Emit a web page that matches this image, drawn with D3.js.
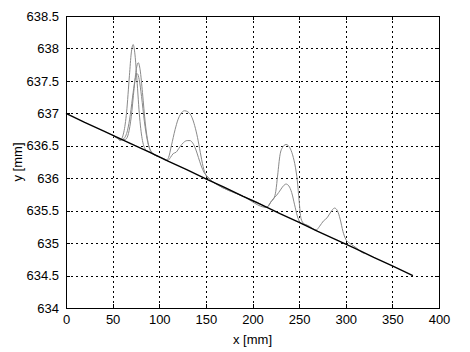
<!DOCTYPE html>
<html>
<head>
<meta charset="utf-8">
<script src="https://cdn.jsdelivr.net/npm/d3@7/dist/d3.min.js"></script>
<style>
html,body{margin:0;padding:0;background:#fff;}
svg{display:block;}
text{font-family:"Liberation Sans",Arial,sans-serif;}
</style>
</head>
<body>
<svg id="chart" width="470" height="352"></svg>
<script>
// ---- data ----
const xTicks = [0, 50, 100, 150, 200, 250, 300, 350, 400];
const yTicks = [634, 634.5, 635, 635.5, 636, 636.5, 637, 637.5, 638, 638.5];
const xLabel = "x [mm]";
const yLabel = "y [mm]";

// black reference line
const baseX = [0, 20, 40, 55, 70, 90, 110, 130, 150, 170, 190, 210, 230, 250, 270, 290, 310, 330, 350, 372];
const baseY = [637.00, 636.86, 636.73, 636.63, 636.53, 636.40, 636.26, 636.13, 635.99, 635.86, 635.72, 635.59, 635.45, 635.32, 635.18, 635.05, 634.92, 634.78, 634.65, 634.50];

// gray curve 1 (highest bumps)
const gray1X = [50, 55, 58, 62, 65, 68, 70, 72, 74, 76, 79, 82, 86, 90, 95, 100, 105, 108, 110, 113, 117, 120, 123, 127, 131, 135, 138, 141, 144, 147, 150, 153, 156, 160, 190, 210, 214, 217, 220, 223, 225, 227, 229.5, 232, 236, 240, 243, 246, 248, 250, 252, 255, 258, 261, 265, 268, 272, 276, 280, 284, 288, 291, 294, 297, 300, 304, 308, 312, 316, 320];
const gray1Y = [636.66, 636.62, 636.58, 636.71, 637.02, 637.58, 637.93, 638.06, 637.90, 637.53, 636.93, 636.58, 636.43, 636.40, 636.36, 636.33, 636.30, 636.28, 636.32, 636.50, 636.75, 636.90, 636.99, 637.04, 637.02, 636.94, 636.81, 636.63, 636.40, 636.18, 636.05, 636.00, 635.96, 635.92, 635.72, 635.59, 635.55, 635.57, 635.64, 635.69, 635.80, 636.05, 636.36, 636.47, 636.52, 636.47, 636.36, 636.17, 635.97, 635.65, 635.38, 635.30, 635.28, 635.26, 635.22, 635.20, 635.26, 635.34, 635.39, 635.48, 635.54, 635.50, 635.37, 635.18, 635.06, 635.00, 634.96, 634.92, 634.87, 634.84];

// gray curve 2
const gray2X = [50, 56, 60, 64, 67, 70, 73, 75.5, 77.5, 79.5, 82, 85, 88, 91, 95, 100, 105, 109, 112, 115, 118, 122, 126, 130, 133, 136, 139, 142, 145, 148, 152, 156, 160, 190, 215, 219, 222, 226, 230, 233, 236, 239, 242, 245, 248, 251, 255, 258, 261, 265];
const gray2Y = [636.66, 636.61, 636.59, 636.60, 636.69, 636.95, 637.38, 637.69, 637.78, 637.67, 637.32, 636.85, 636.55, 636.42, 636.36, 636.33, 636.29, 636.27, 636.32, 636.38, 636.40, 636.48, 636.55, 636.58, 636.58, 636.54, 636.45, 636.32, 636.19, 636.09, 636.02, 635.96, 635.92, 635.72, 635.55, 635.62, 635.68, 635.74, 635.82, 635.88, 635.91, 635.88, 635.78, 635.60, 635.42, 635.32, 635.29, 635.28, 635.25, 635.22];

// gray curve 3
const gray3X = [50, 56, 59, 62, 66, 69, 72, 74.5, 76.5, 78.5, 81, 84, 87, 90, 94, 100];
const gray3Y = [636.66, 636.61, 636.59, 636.61, 636.74, 636.98, 637.32, 637.55, 637.61, 637.52, 637.26, 636.88, 636.60, 636.44, 636.37, 636.33];

// ---- chart ----
const W = 470, H = 352;
const m = {left: 66, right: 31, top: 16, bottom: 44};
const svg = d3.select("#chart");
const x = d3.scaleLinear().domain([0, 400]).range([m.left, W - m.right]);
const y = d3.scaleLinear().domain([634, 638.5]).range([H - m.bottom, m.top]);
const x0 = x.range()[0], x1 = x.range()[1], y0 = y.range()[0], y1 = y.range()[1];

// grid (dotted)
const grid = svg.append("g").attr("stroke", "#000").attr("stroke-width", 1)
  .attr("stroke-dasharray", "2,3").attr("shape-rendering", "crispEdges");
xTicks.slice(1, -1).forEach(t => {
  grid.append("line").attr("x1", Math.round(x(t)) + 0.5).attr("x2", Math.round(x(t)) + 0.5)
    .attr("y1", y0).attr("y2", y1);
});
yTicks.slice(1, -1).forEach(t => {
  grid.append("line").attr("y1", Math.round(y(t)) + 0.5).attr("y2", Math.round(y(t)) + 0.5)
    .attr("x1", x0).attr("x2", x1);
});

// curves
const pts = (xs, ys) => xs.map((v, i) => [v, ys[i]]);
const line = d3.line().x(d => x(d[0])).y(d => y(d[1])).curve(d3.curveMonotoneX);
[[gray3X, gray3Y], [gray2X, gray2Y], [gray1X, gray1Y]].forEach(s => {
  svg.append("path").datum(pts(s[0], s[1])).attr("d", line)
    .attr("fill", "none").attr("stroke", "#8a8a8a").attr("stroke-width", 1);
});
svg.append("path").datum(pts(baseX, baseY)).attr("d", d3.line().x(d => x(d[0])).y(d => y(d[1])))
  .attr("fill", "none").attr("stroke", "#000").attr("stroke-width", 1.4);

// axes (MATLAB box with inward ticks)
const fs = 13;
const xAxis = d3.axisBottom(x).tickValues(xTicks).tickFormat(d3.format("d")).tickSizeInner(-4).tickSizeOuter(0).tickPadding(7);
const yAxis = d3.axisLeft(y).tickValues(yTicks).tickFormat(d => d3.format("")(d)).tickSizeInner(-4).tickSizeOuter(0).tickPadding(7);
const xTop = d3.axisTop(x).tickValues(xTicks).tickFormat("").tickSizeInner(-4).tickSizeOuter(0);
const yRight = d3.axisRight(y).tickValues(yTicks).tickFormat("").tickSizeInner(-4).tickSizeOuter(0);

function style(g) {
  g.selectAll("path,line").attr("stroke", "#000").attr("shape-rendering", "crispEdges");
  g.selectAll("text").attr("fill", "#000").style("font-size", fs + "px");
}
svg.append("g").attr("transform", `translate(0,${y0})`).call(xAxis).call(style);
svg.append("g").attr("transform", `translate(${x0},0)`).call(yAxis).call(style);
svg.append("g").attr("transform", `translate(0,${y1})`).call(xTop).call(style);
svg.append("g").attr("transform", `translate(${x1},0)`).call(yRight).call(style);

// axis labels
svg.append("text").attr("x", (x0 + x1) / 2).attr("y", 344).attr("text-anchor", "middle")
  .style("font-size", fs + "px").text(xLabel);
svg.append("text").attr("transform", `translate(22,${(y0 + y1) / 2}) rotate(-90)`)
  .attr("text-anchor", "middle").style("font-size", fs + "px").text(yLabel);
</script>
</body>
</html>
